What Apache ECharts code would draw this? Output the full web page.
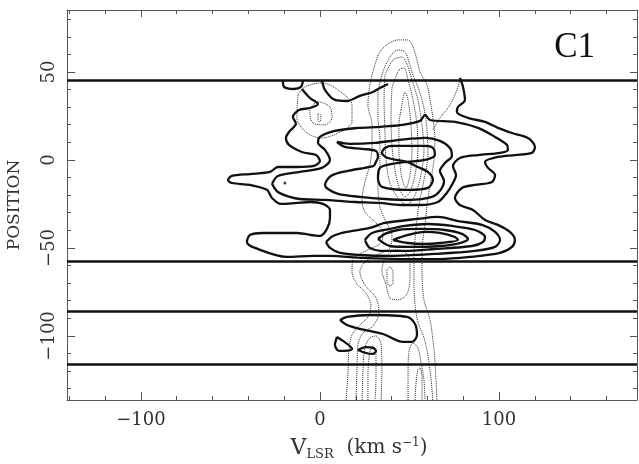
<!DOCTYPE html>
<html>
<head>
<meta charset="utf-8">
<script src="https://cdn.jsdelivr.net/npm/echarts@6/dist/echarts.min.js"></script>
<style>
html, body { margin: 0; padding: 0; background: #fff; }
#chart { width: 639px; height: 464px; }
</style>
</head>
<body>
<div id="chart"></div>
<script>
// ---- axis extents and ticks ----
const velocityRange = [-141.3, 177.1];
const positionRange = [-136.4, 85.2];
const velocityMajorTicks = [-100, 0, 100];
const velocityMinorTicks = [-140, -120, -80, -60, -40, -20, 20, 40, 60, 80, 120, 140, 160];
const positionMajorTicks = [-100, -50, 0, 50];
const positionMinorTicks = [-130, -120, -110, -90, -80, -70, -60, -40, -30, -20, -10, 10, 20, 30, 40, 60, 70, 80];

// ---- slit boundaries (position) ----
const slitEdges = [45.5, -57.4, -85.8, -115.9];

// ---- first map: thick contours [velocity, position] ----
const thickHook = [[-20.7,45.5],[-20.1,41.5],[-14.5,40.3],[-10.6,41.5],[-9.5,44.9]];
const thickUpperArc = [[1.1,45.5],[2.8,39.8],[8.4,34.1],[15.1,33.5],[22.3,36.4],[29.6,38.6],[33.5,40.9],[38.0,43.2]];
const thickOuter = [
  [-10.1,40.3],[-5.6,35.2],[-1.1,31.8],[-5.6,29.5],[-11.7,28.4],[-15.1,24.4],[-13.4,20.5],[-16.8,16.5],
  [-19.0,12.5],[-17.3,8.5],[-10.1,4.5],[-2.2,2.8],[0,-0.6],[-3.4,-3.4],[-12.9,-4.0],[-23.5,-4.0],
  [-27.9,-6.8],[-39.1,-8.0],[-49.2,-9.1],[-51.4,-11.4],[-49.2,-13.1],[-39.1,-14.2],[-29.6,-17.0],
  [-26.8,-21.6],[-21.8,-25.0],[-12.9,-24.4],[-5.6,-23.9],[1.7,-25.0],[5.6,-28.4],[5.6,-33.0],
  [3.9,-39.2],[0,-43.2],[-12.9,-41.5],[-31.8,-41.5],[-39.1,-42.6],[-40.8,-46.6],[-36.3,-50.0],
  [-18.4,-55.1],[-3.9,-54.5],[5.6,-54.5],[24.0,-55.7],[44.7,-56.3],[67.0,-56.3],[83.8,-55.1],
  [100.6,-52.8],[107.3,-49.4],[108.9,-45.5],[106.1,-40.9],[99.4,-36.9],[92.2,-34.1],[85.5,-28.4],
  [78.2,-25.6],[75.4,-21.6],[79.3,-15.9],[86.6,-14.2],[96.1,-12.5],[97.8,-8.5],[93.9,-4.5],
  [92.2,-1.1],[99.4,1.7],[108.9,2.8],[118.4,4.0],[120.1,7.4],[116.2,12.5],[107.3,15.3],[99.4,18.2],
  [92.2,21.6],[82.7,23.9],[76.5,27.3],[77.1,30.1],[81.0,34.1],[79.9,41.5],[78.2,46.6]
];
const thickUpper2 = [
  [-26.8,-13.6],[-23.5,-9.1],[-11.2,-6.8],[1.1,-4.5],[5.6,0],[2.8,5.7],[-1.1,9.7],[0,13.1],
  [8.4,16.5],[21.2,18.2],[33.5,18.8],[45.8,19.9],[55.9,22.2],[58.7,25.6],[61.5,22.7],[75.4,21.6],
  [88.3,18.2],[97.8,13.1],[104.5,8.5],[105.0,5.7],[100.6,4.0],[88.3,2.8],[78.2,1.1],[74.3,-3.4],
  [76.0,-8.5],[73.7,-14.2],[70.4,-19.3],[65.9,-23.9],[55.9,-25.6],[44.7,-25.6],[33.5,-24.4],
  [19.6,-23.9],[11.2,-23.3],[2.8,-22.7],[-11.2,-22.2],[-16.8,-21.0],[-23.5,-18.2],[-26.8,-13.6]
];
const thickUpper3 = [
  [30.2,-3.4],[25.1,-4.5],[15.1,-6.3],[6.1,-9.1],[2.8,-14.2],[4.5,-16.5],[10.1,-19.3],[22.3,-21.0],
  [36.3,-22.2],[50.3,-22.7],[62.6,-21.0],[67.0,-17.6],[69.3,-11.9],[67.0,-6.3],[69.8,-1.7],[73.7,2.3],
  [72.6,6.8],[67.0,10.8],[58.7,12.5],[44.7,11.4],[30.7,9.7],[16.8,9.1],[9.5,10.2],[14.0,7.4],
  [23.5,6.3],[31.3,5.1],[32.4,1.7],[31.3,-1.1],[30.2,-3.4]
];
const thickCore = [
  [48.6,-1.1],[58.7,0],[64.2,2.8],[63.1,6.8],[58.7,8.0],[40.2,8.0],[36.3,6.8],[34.6,4.0],[38.0,1.1],
  [48.6,-1.1],[54.7,-4.0],[60.3,-6.8],[63.1,-11.4],[60.3,-15.9],[49.2,-17.0],[34.6,-15.3],[32.4,-10.2],
  [33.5,-4.5],[40.2,-2.3],[48.6,-1.1]
];
const thickLower2 = [
  [3.4,-46.6],[7.3,-43.2],[15.1,-40.9],[27.9,-38.6],[36.3,-35.8],[54.7,-33.5],[65.9,-32.4],[77.1,-34.7],
  [90.5,-36.9],[97.8,-40.9],[100.6,-45.5],[97.8,-49.4],[86.6,-51.7],[64.2,-53.4],[39.1,-54.5],
  [22.3,-54.0],[11.2,-52.8],[5.6,-50.0],[3.4,-46.6]
];
const thickLower3 = [
  [25.1,-45.5],[29.1,-41.5],[39.1,-39.2],[47.5,-37.5],[60.3,-36.4],[73.7,-37.5],[86.6,-39.8],
  [92.2,-43.8],[91.1,-46.6],[84.9,-48.9],[64.2,-50.6],[47.5,-51.7],[36.3,-51.7],[27.9,-50.0],[25.1,-45.5]
];
const thickLower4 = [
  [32.4,-44.9],[36.3,-42.0],[43.6,-39.8],[55.9,-39.2],[69.8,-39.8],[79.3,-42.0],[82.7,-44.9],
  [78.2,-47.2],[67.0,-48.9],[50.3,-49.4],[39.1,-48.9],[32.4,-44.9]
];
const thickLower5 = [
  [40.8,-45.5],[49.2,-42.6],[58.7,-40.9],[67.0,-41.5],[75.4,-43.8],[77.1,-45.5],[67.0,-47.2],
  [58.7,-47.7],[49.2,-47.2],[40.8,-45.5]
];
const thickSouthArc = [
  [11.2,-90.9],[15.1,-89.2],[27.9,-88.1],[48.6,-89.2],[53.1,-93.2],[54.2,-99.4],[51.4,-103.4],
  [46.4,-103.4],[35.2,-98.9],[22.3,-96.0],[15.1,-93.8],[11.2,-90.9]
];
const thickSouthWedge = [[9.5,-100.6],[8.4,-105.1],[10.6,-108.5],[17.9,-107.4],[9.5,-100.6]];
const thickSouthKnot = [[21.2,-108.0],[25.7,-106.3],[29.6,-106.8],[31.3,-108.5],[29.6,-110.2],[25.7,-109.7],[21.2,-108.0]];
const peakDot = [[-19.6,-13.1]];

// ---- second map: dotted contours [velocity, position] ----
const dotRing1 = [[-12.3,36.9],[-8.4,41.5],[1.1,43.8],[10.1,39.8],[17.9,31.3],[17.9,21.6],[10.1,15.3],[1.1,12.5],[-7.3,15.3],[-12.9,23.9],[-12.3,36.9]];
const dotRing2 = [[-5.6,29.5],[-1.1,33.0],[5.6,30.1],[6.7,23.9],[2.8,19.9],[-3.9,21.0],[-5.6,25.6],[-5.6,29.5]];
const dotRing3 = [[-1.1,26.1],[0,26.1],[0.6,23.9],[0,21.6],[-1.1,22.2],[-1.1,26.1]];
const dotOuter = [
  [14.5,-137.5],[15.6,-122.2],[16.2,-108.0],[17.9,-99.4],[22.3,-93.8],[26.8,-89.2],[28.5,-82.4],
  [25.7,-75.6],[20.7,-70.5],[17.9,-63.6],[18.4,-56.8],[22.3,-53.4],[29.1,-50.0],[34.6,-46.6],
  [35.2,-40.9],[30.7,-35.2],[25.1,-29.5],[23.5,-22.7],[25.1,-12.5],[27.9,-2.8],[29.1,8.5],[29.1,19.9],
  [26.8,31.3],[27.9,42.6],[30.7,54.0],[33.5,61.4],[38.0,65.9],[43.6,68.2],[49.2,68.2],[52.0,64.2],
  [54.2,56.8],[55.9,50.0],[59.8,42.6],[61.5,34.1],[63.1,23.9],[64.2,11.4],[63.7,0],[61.5,-14.2],
  [59.8,-25.6],[58.7,-36.9],[57.0,-51.1],[57.0,-62.5],[58.1,-79.5],[61.5,-90.9],[63.1,-102.3],
  [64.2,-113.6],[64.8,-125.0],[65.4,-137.5]
];
const dotSecond = [
  [20.1,-137.5],[20.7,-119.3],[21.2,-105.1],[24.0,-98.3],[29.6,-94.3],[33.0,-86.9],[31.3,-78.4],
  [25.1,-71.0],[22.3,-63.6],[25.1,-58.0],[31.8,-54.0],[39.1,-50.0],[40.2,-42.6],[36.9,-35.2],
  [33.5,-26.7],[32.4,-14.2],[33.5,-2.8],[33.5,11.4],[32.4,23.9],[32.4,36.9],[35.2,50.0],[39.1,58.5],
  [43.6,62.5],[47.5,61.4],[49.7,55.7],[52.0,48.3],[55.3,39.8],[58.1,29.5],[59.8,17.0],[60.3,2.8],
  [58.1,-11.4],[55.3,-25.6],[53.6,-39.8],[52.5,-54.0],[52.5,-68.2],[53.1,-82.4],[54.7,-92.0],
  [58.1,-101.1],[60.3,-110.8],[62.0,-123.9],[63.1,-137.5]
];
const dotInner1 = [
  [36.3,48.3],[40.8,56.8],[45.8,58.5],[48.6,54.5],[51.4,45.5],[54.7,34.1],[57.0,19.9],[58.1,5.7],
  [56.4,-8.5],[53.1,-19.9],[48.6,-25.6],[43.6,-21.6],[39.1,-13.1],[36.9,0],[36.3,17.0],[35.8,34.1],[36.3,48.3]
];
const dotInner2 = [
  [40.2,40.9],[44.1,51.1],[46.9,52.3],[49.2,45.5],[52.0,34.1],[54.2,19.9],[54.7,5.7],[53.1,-8.5],
  [50.3,-18.2],[47.5,-21.0],[44.7,-17.0],[41.9,-5.7],[40.2,8.5],[39.7,25.6],[40.2,40.9]
];
const dotInner3 = [
  [45.3,28.4],[47.5,38.6],[49.2,34.1],[50.8,19.9],[51.4,5.7],[50.3,-8.5],[48.0,-15.9],[45.8,-10.2],
  [44.1,5.7],[44.1,19.9],[45.3,28.4]
];
const dotSpur = [[63.1,17.0],[67.0,23.9],[71.5,29.5],[75.4,36.9],[78.2,45.5]];
const dotPocket = [[36.3,-55.7],[34.6,-62.5],[36.9,-71.0],[39.1,-78.4],[43.6,-79.5],[48.6,-76.1],[50.3,-67.0],[50.3,-58.0],[47.5,-52.3],[41.9,-51.1],[36.3,-55.7]];
const dotPocketCore = [[37.4,-62.5],[39.1,-60.8],[40.8,-63.6],[40.8,-69.9],[39.1,-71.6],[37.4,-69.3],[37.4,-62.5]];
const dotSouthWest = [[23.5,-137.5],[24.0,-120.5],[25.1,-106.8],[27.9,-101.1],[31.3,-100.0],[34.1,-104.5],[34.6,-119.3],[34.1,-137.5]];
const dotSouthWestCore = [[26.8,-137.5],[26.8,-122.2],[27.9,-109.1],[29.6,-105.7],[31.3,-109.1],[31.3,-123.9],[30.7,-137.5]];
const dotSouthEast = [[49.2,-137.5],[49.2,-122.2],[49.7,-109.1],[52.0,-104.0],[54.7,-106.8],[56.4,-114.8],[58.1,-125.0],[58.7,-137.5]];
const dotSouthEastCore = [[53.1,-137.5],[53.6,-127.8],[54.7,-119.3],[55.9,-118.2],[57.0,-123.9],[57.0,-137.5]];

const thickContours = [
  thickHook, thickUpperArc, thickOuter, thickUpper2, thickUpper3, thickCore,
  thickLower2, thickLower3, thickLower4, thickLower5,
  thickSouthArc, thickSouthWedge, thickSouthKnot
];
const dottedContours = [
  dotRing1, dotRing2, dotRing3, dotOuter, dotSecond, dotInner1, dotInner2, dotInner3, dotSpur,
  dotPocket, dotPocketCore, dotSouthWest, dotSouthWestCore, dotSouthEast, dotSouthEastCore
];

// ---- chart ----
const serif = 'DejaVu Serif';
const frameColor = '#555';
const minus = v => String(v).replace('-', '\u2212');

function xAxisDef(position, ticks, len, showLine, extra) {
  return Object.assign({
    type: 'value', position: position,
    min: velocityRange[0], max: velocityRange[1],
    splitLine: { show: false },
    axisLine: { show: showLine, onZero: false, lineStyle: { color: frameColor, width: 1 } },
    axisTick: { show: true, inside: true, length: len, customValues: ticks, lineStyle: { color: frameColor, width: 1 } },
    axisLabel: { show: false }
  }, extra || {});
}
function yAxisDef(position, ticks, len, showLine, extra) {
  return Object.assign({
    type: 'value', position: position,
    min: positionRange[0], max: positionRange[1],
    splitLine: { show: false },
    axisLine: { show: showLine, onZero: false, lineStyle: { color: frameColor, width: 1 } },
    axisTick: { show: true, inside: true, length: len, customValues: ticks, lineStyle: { color: frameColor, width: 1 } },
    axisLabel: { show: false }
  }, extra || {});
}

const series = [];
dottedContours.forEach(c => series.push({
  type: 'line', data: c, symbol: 'none', smooth: 0.3, silent: true, z: 2,
  lineStyle: { color: '#2a2a2a', width: 1, type: [1, 1] }
}));
thickContours.forEach(c => series.push({
  type: 'line', data: c, symbol: 'none', smooth: 0.3, silent: true, z: 3,
  lineStyle: { color: '#111', width: 2.3 }
}));
series.push({
  type: 'scatter', data: peakDot, symbolSize: 3, silent: true, z: 4,
  itemStyle: { color: '#111' },
  markLine: {
    silent: true, symbol: ['none', 'none'], animation: false,
    label: { show: false },
    lineStyle: { color: '#111', width: 2.5, type: 'solid' },
    data: slitEdges.map(v => ({ yAxis: v }))
  }
});

const chart = echarts.init(document.getElementById('chart'), null, { renderer: 'canvas' });
chart.setOption({
  animation: false,
  backgroundColor: '#fff',
  title: {
    text: 'C1', right: 39, top: 25,
    textStyle: { fontFamily: 'Liberation Serif', fontSize: 35, fontWeight: 'normal', color: '#111' }
  },
  grid: { left: 67, right: 2, top: 10, bottom: 64, containLabel: false, outerBoundsMode: 'none' },
  xAxis: [
    xAxisDef('bottom', velocityMajorTicks, 8, true, {
      axisLabel: { show: true, customValues: velocityMajorTicks, margin: 11, fontFamily: serif, fontSize: 18, color: '#333', formatter: minus },
      name: '{v|V}{s|LSR}  (km s{p|\u22121})',
      nameLocation: 'middle', nameGap: 37,
      nameTextStyle: {
        fontFamily: serif, fontSize: 20, color: '#333', padding: [0, 0, 0, 14],
        rich: {
          v: { fontFamily: serif, fontSize: 22, color: '#333', verticalAlign: 'bottom' },
          s: { fontFamily: serif, fontSize: 13, color: '#333', verticalAlign: 'bottom', padding: [0, 0, -2, 0] },
          p: { fontFamily: serif, fontSize: 12, color: '#333', verticalAlign: 'top', padding: [0, 0, 10, 0] }
        }
      }
    }),
    xAxisDef('bottom', velocityMinorTicks, 4, false),
    xAxisDef('top', velocityMajorTicks, 7, true),
    xAxisDef('top', velocityMinorTicks, 4, false)
  ],
  yAxis: [
    yAxisDef('left', positionMajorTicks, 8, true, {
      axisLabel: { show: true, customValues: positionMajorTicks, rotate: 90, margin: 9, fontFamily: serif, fontSize: 18, color: '#333', formatter: minus },
      name: 'POSITION', nameLocation: 'middle', nameGap: 44,
      nameTextStyle: { fontFamily: serif, fontSize: 17, color: '#333' }
    }),
    yAxisDef('left', positionMinorTicks, 4, false),
    yAxisDef('right', positionMajorTicks, 7, true),
    yAxisDef('right', positionMinorTicks, 4, false)
  ],
  series: series
});
</script>
</body>
</html>
